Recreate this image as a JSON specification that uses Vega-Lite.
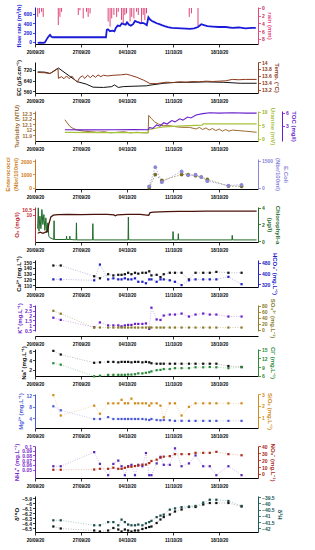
{
"$schema":"https://vega.github.io/schema/vega-lite/v6.json",
"background":"white",
"padding":{"left":4,"top":4,"right":2,"bottom":2},
"datasets":{
"flow":[{"t":"2020-09-20T10:00","q":-20},{"t":"2020-09-20T19:00","q":-15},{"t":"2020-09-21T05:00","q":-20},{"t":"2020-09-21T12:00","q":-10},{"t":"2020-09-21T19:00","q":60},{"t":"2020-09-22T02:00","q":120},{"t":"2020-09-22T07:00","q":150},{"t":"2020-09-22T12:00","q":110},{"t":"2020-09-22T17:00","q":100},{"t":"2020-09-25T00:00","q":100},{"t":"2020-09-28T00:00","q":100},{"t":"2020-09-30T19:00","q":100},{"t":"2020-09-30T22:00","q":260},{"t":"2020-10-01T02:00","q":270},{"t":"2020-10-01T10:00","q":230},{"t":"2020-10-01T19:00","q":240},{"t":"2020-10-02T02:00","q":225},{"t":"2020-10-02T07:00","q":300},{"t":"2020-10-02T14:00","q":350},{"t":"2020-10-02T22:00","q":340},{"t":"2020-10-03T05:00","q":400},{"t":"2020-10-03T12:00","q":380},{"t":"2020-10-03T19:00","q":370},{"t":"2020-10-04T00:00","q":420},{"t":"2020-10-04T07:00","q":370},{"t":"2020-10-04T14:00","q":350},{"t":"2020-10-04T22:00","q":380},{"t":"2020-10-05T05:00","q":450},{"t":"2020-10-05T12:00","q":430},{"t":"2020-10-05T19:00","q":420},{"t":"2020-10-06T02:00","q":400},{"t":"2020-10-06T10:00","q":410},{"t":"2020-10-06T17:00","q":390},{"t":"2020-10-07T00:00","q":360},{"t":"2020-10-07T06:00","q":530},{"t":"2020-10-07T12:00","q":480},{"t":"2020-10-07T19:00","q":450},{"t":"2020-10-08T02:00","q":430},{"t":"2020-10-08T12:00","q":400},{"t":"2020-10-08T22:00","q":380},{"t":"2020-10-09T07:00","q":360},{"t":"2020-10-09T17:00","q":340},{"t":"2020-10-10T05:00","q":320},{"t":"2020-10-10T19:00","q":300},{"t":"2020-10-11T12:00","q":295},{"t":"2020-10-12T05:00","q":290},{"t":"2020-10-13T00:00","q":285},{"t":"2020-10-13T14:00","q":280},{"t":"2020-10-14T05:00","q":290},{"t":"2020-10-14T19:00","q":320},{"t":"2020-10-15T07:00","q":380},{"t":"2020-10-15T17:00","q":360},{"t":"2020-10-16T05:00","q":340},{"t":"2020-10-17T00:00","q":330},{"t":"2020-10-18T00:00","q":320},{"t":"2020-10-19T00:00","q":320},{"t":"2020-10-20T00:00","q":300},{"t":"2020-10-21T00:00","q":310},{"t":"2020-10-22T00:00","q":290},{"t":"2020-10-23T00:00","q":300},{"t":"2020-10-23T14:00","q":300}],
"rain":[{"t":"2020-09-20T10:00","mm":2.3},{"t":"2020-09-20T16:00","mm":1.4},{"t":"2020-09-21T00:00","mm":1.0},{"t":"2020-09-21T06:00","mm":2.3},{"t":"2020-09-23T13:00","mm":4.4},{"t":"2020-09-23T19:00","mm":2.3},{"t":"2020-09-24T01:00","mm":1.0},{"t":"2020-09-26T14:00","mm":1.8},{"t":"2020-09-26T20:00","mm":0.6},{"t":"2020-09-27T08:00","mm":2.7},{"t":"2020-09-27T20:00","mm":1.0},{"t":"2020-09-28T02:00","mm":2.3},{"t":"2020-09-28T09:00","mm":1.4},{"t":"2020-10-01T03:00","mm":3.5},{"t":"2020-10-01T10:00","mm":4.8},{"t":"2020-10-01T16:00","mm":2.7},{"t":"2020-10-02T00:00","mm":1.8},{"t":"2020-10-02T10:00","mm":2.3},{"t":"2020-10-02T16:00","mm":1.0},{"t":"2020-10-03T04:00","mm":3.1},{"t":"2020-10-03T10:00","mm":4.4},{"t":"2020-10-03T16:00","mm":1.8},{"t":"2020-10-03T22:00","mm":1.4},{"t":"2020-10-04T11:00","mm":3.5},{"t":"2020-10-04T17:00","mm":2.3},{"t":"2020-10-05T01:00","mm":2.7},{"t":"2020-10-05T11:00","mm":1.0},{"t":"2020-10-05T17:00","mm":1.8},{"t":"2020-10-06T05:00","mm":3.9},{"t":"2020-10-06T11:00","mm":1.8},{"t":"2020-10-06T17:00","mm":3.1},{"t":"2020-10-06T23:00","mm":1.4},{"t":"2020-10-13T11:00","mm":2.3},{"t":"2020-10-13T19:00","mm":1.4},{"t":"2020-10-14T19:00","mm":4.8}],
"ec":[{"t":"2020-09-20T10:00","v":704},{"t":"2020-09-21T12:00","v":702},{"t":"2020-09-22T07:00","v":692},{"t":"2020-09-23T13:00","v":733},{"t":"2020-09-26T10:00","v":632},{"t":"2020-09-27T20:00","v":613},{"t":"2020-09-28T20:00","v":591},{"t":"2020-09-30T10:00","v":589},{"t":"2020-10-01T16:00","v":595},{"t":"2020-10-02T02:00","v":608},{"t":"2020-10-02T16:00","v":589},{"t":"2020-10-03T10:00","v":595},{"t":"2020-10-04T22:00","v":598},{"t":"2020-10-06T23:00","v":601},{"t":"2020-10-07T12:00","v":606},{"t":"2020-10-09T14:00","v":620},{"t":"2020-10-11T14:00","v":627},{"t":"2020-10-13T14:00","v":627},{"t":"2020-10-16T02:00","v":630},{"t":"2020-10-18T17:00","v":627},{"t":"2020-10-21T05:00","v":620},{"t":"2020-10-23T17:00","v":620}],
"temp":[{"t":"2020-09-20T10:00","v":13.7},{"t":"2020-09-21T12:00","v":13.69},{"t":"2020-09-22T07:00","v":13.67},{"t":"2020-09-23T00:00","v":13.75},{"t":"2020-09-23T12:00","v":13.81},{"t":"2020-09-23T13:30","v":13.53},{"t":"2020-09-24T00:00","v":13.58},{"t":"2020-09-24T10:00","v":13.52},{"t":"2020-09-24T19:00","v":13.6},{"t":"2020-09-25T05:00","v":13.52},{"t":"2020-09-25T14:00","v":13.6},{"t":"2020-09-26T00:00","v":13.5},{"t":"2020-09-26T10:00","v":13.42},{"t":"2020-09-26T19:00","v":13.55},{"t":"2020-09-27T05:00","v":13.6},{"t":"2020-09-27T14:00","v":13.53},{"t":"2020-09-28T00:00","v":13.62},{"t":"2020-09-28T10:00","v":13.55},{"t":"2020-09-28T19:00","v":13.62},{"t":"2020-09-29T05:00","v":13.56},{"t":"2020-09-29T14:00","v":13.63},{"t":"2020-09-30T00:00","v":13.58},{"t":"2020-09-30T10:00","v":13.62},{"t":"2020-10-01T00:00","v":13.6},{"t":"2020-10-02T00:00","v":13.62},{"t":"2020-10-03T00:00","v":13.63},{"t":"2020-10-03T22:00","v":13.65},{"t":"2020-10-04T12:00","v":13.62},{"t":"2020-10-05T12:00","v":13.56},{"t":"2020-10-06T12:00","v":13.48},{"t":"2020-10-07T12:00","v":13.38},{"t":"2020-10-08T12:00","v":13.38},{"t":"2020-10-10T00:00","v":13.42},{"t":"2020-10-11T00:00","v":13.41},{"t":"2020-10-12T00:00","v":13.43},{"t":"2020-10-13T00:00","v":13.42},{"t":"2020-10-14T00:00","v":13.44},{"t":"2020-10-15T00:00","v":13.43},{"t":"2020-10-16T00:00","v":13.45},{"t":"2020-10-17T00:00","v":13.44},{"t":"2020-10-18T00:00","v":13.45},{"t":"2020-10-19T00:00","v":13.46},{"t":"2020-10-20T00:00","v":13.5},{"t":"2020-10-21T00:00","v":13.49},{"t":"2020-10-22T00:00","v":13.5},{"t":"2020-10-23T17:00","v":13.5}],
"turb":[{"t":"2020-09-24T13:00","v":12.18},{"t":"2020-09-24T22:00","v":12.12},{"t":"2020-09-25T07:00","v":12.06},{"t":"2020-09-25T19:00","v":12.02},{"t":"2020-09-26T12:00","v":11.99},{"t":"2020-09-27T12:00","v":11.97},{"t":"2020-09-28T12:00","v":11.96},{"t":"2020-09-29T12:00","v":11.95},{"t":"2020-09-30T12:00","v":11.96},{"t":"2020-10-01T12:00","v":11.94},{"t":"2020-10-02T12:00","v":11.95},{"t":"2020-10-03T12:00","v":11.96},{"t":"2020-10-04T12:00","v":11.94},{"t":"2020-10-05T12:00","v":11.95},{"t":"2020-10-06T12:00","v":11.94},{"t":"2020-10-07T05:00","v":11.94},{"t":"2020-10-07T07:00","v":12.26},{"t":"2020-10-07T17:00","v":12.2},{"t":"2020-10-08T05:00","v":12.14},{"t":"2020-10-08T19:00","v":12.1},{"t":"2020-10-09T12:00","v":12.07},{"t":"2020-10-10T12:00","v":12.07},{"t":"2020-10-11T12:00","v":12.05},{"t":"2020-10-12T12:00","v":12.04},{"t":"2020-10-13T12:00","v":12.04},{"t":"2020-10-14T12:00","v":12.01},{"t":"2020-10-15T00:00","v":12.04},{"t":"2020-10-15T12:00","v":12.0},{"t":"2020-10-16T00:00","v":12.03},{"t":"2020-10-16T12:00","v":11.99},{"t":"2020-10-17T00:00","v":12.02},{"t":"2020-10-17T12:00","v":11.98},{"t":"2020-10-18T00:00","v":12.01},{"t":"2020-10-18T12:00","v":11.97},{"t":"2020-10-19T00:00","v":12.0},{"t":"2020-10-19T12:00","v":11.97},{"t":"2020-10-20T00:00","v":11.99},{"t":"2020-10-21T00:00","v":11.98},{"t":"2020-10-22T00:00","v":11.97},{"t":"2020-10-23T17:00","v":11.95}],
"ura":[{"t":"2020-09-24T13:00","v":2.3},{"t":"2020-09-30T00:00","v":2.2},{"t":"2020-10-07T05:00","v":2.2},{"t":"2020-10-07T07:00","v":3.3},{"t":"2020-10-08T12:00","v":3.9},{"t":"2020-10-09T14:00","v":4.3},{"t":"2020-10-11T00:00","v":4.5},{"t":"2020-10-13T10:00","v":4.8},{"t":"2020-10-15T10:00","v":5.0},{"t":"2020-10-15T14:00","v":5.4},{"t":"2020-10-23T17:00","v":5.4}],
"toc":[{"t":"2020-09-24T13:00","v":2.1},{"t":"2020-09-28T00:00","v":2.05},{"t":"2020-10-02T00:00","v":2.1},{"t":"2020-10-05T00:00","v":2.15},{"t":"2020-10-07T05:00","v":2.1},{"t":"2020-10-07T10:00","v":2.6},{"t":"2020-10-07T22:00","v":2.4},{"t":"2020-10-08T12:00","v":3.2},{"t":"2020-10-09T00:00","v":2.9},{"t":"2020-10-09T14:00","v":3.7},{"t":"2020-10-10T02:00","v":3.4},{"t":"2020-10-10T19:00","v":4.2},{"t":"2020-10-11T07:00","v":3.9},{"t":"2020-10-12T00:00","v":4.6},{"t":"2020-10-12T12:00","v":4.3},{"t":"2020-10-13T05:00","v":5.0},{"t":"2020-10-13T17:00","v":4.8},{"t":"2020-10-14T12:00","v":5.5},{"t":"2020-10-15T12:00","v":5.8},{"t":"2020-10-16T14:00","v":6.0},{"t":"2020-10-18T00:00","v":5.9},{"t":"2020-10-20T00:00","v":6.0},{"t":"2020-10-22T00:00","v":5.9},{"t":"2020-10-23T17:00","v":5.9}],
"bact":[{"t":"2020-10-07T09:00","entero":0,"ecoli":90},{"t":"2020-10-08T07:00","entero":980,"ecoli":1145},{"t":"2020-10-09T07:00","entero":540,"ecoli":316},{"t":"2020-10-12T07:00","entero":980,"ecoli":920},{"t":"2020-10-13T07:00","entero":980,"ecoli":694},{"t":"2020-10-14T10:00","entero":900,"ecoli":733},{"t":"2020-10-15T07:00","entero":800,"ecoli":600},{"t":"2020-10-16T05:00","entero":620,"ecoli":372},{"t":"2020-10-19T10:00","entero":120,"ecoli":130},{"t":"2020-10-21T10:00","entero":100,"ecoli":170}],
"o2":[{"t":"2020-09-20T10:00","v":8.3},{"t":"2020-09-20T19:00","v":8.4},{"t":"2020-09-21T05:00","v":8.3},{"t":"2020-09-21T14:00","v":8.4},{"t":"2020-09-21T22:00","v":8.5},{"t":"2020-09-22T02:00","v":9.1},{"t":"2020-09-22T10:00","v":9.8},{"t":"2020-09-22T19:00","v":9.95},{"t":"2020-09-23T12:00","v":10.0},{"t":"2020-09-25T00:00","v":10.02},{"t":"2020-09-27T00:00","v":10.0},{"t":"2020-09-29T00:00","v":10.02},{"t":"2020-10-01T00:00","v":10.02},{"t":"2020-10-02T00:00","v":9.98},{"t":"2020-10-02T05:00","v":9.9},{"t":"2020-10-02T12:00","v":9.98},{"t":"2020-10-04T00:00","v":10.02},{"t":"2020-10-06T00:00","v":10.02},{"t":"2020-10-07T00:00","v":9.96},{"t":"2020-10-07T07:00","v":9.95},{"t":"2020-10-07T12:00","v":10.18},{"t":"2020-10-08T00:00","v":10.24},{"t":"2020-10-10T00:00","v":10.27},{"t":"2020-10-12T00:00","v":10.3},{"t":"2020-10-14T00:00","v":10.3},{"t":"2020-10-16T00:00","v":10.33},{"t":"2020-10-18T00:00","v":10.32},{"t":"2020-10-20T00:00","v":10.33},{"t":"2020-10-22T00:00","v":10.33},{"t":"2020-10-23T17:00","v":10.33}],
"chl":[{"t":"2020-09-20T09:36","v":1.5},{"t":"2020-09-20T12:00","v":4.0},{"t":"2020-09-20T14:24","v":1.2},{"t":"2020-09-20T18:00","v":3.0},{"t":"2020-09-20T21:36","v":1.5},{"t":"2020-09-21T01:12","v":3.8},{"t":"2020-09-21T04:48","v":2.0},{"t":"2020-09-21T08:24","v":3.2},{"t":"2020-09-21T12:00","v":1.3},{"t":"2020-09-21T15:36","v":2.8},{"t":"2020-09-21T19:12","v":1.0},{"t":"2020-09-21T22:48","v":2.2},{"t":"2020-09-22T02:24","v":0.6},{"t":"2020-09-22T07:12","v":0.4},{"t":"2020-09-22T14:24","v":0.3},{"t":"2020-09-22T20:24","v":0.2},{"t":"2020-09-22T21:36","v":2.45},{"t":"2020-09-22T22:48","v":0.2},{"t":"2020-09-24T18:00","v":0.2},{"t":"2020-09-24T19:12","v":0.6},{"t":"2020-09-24T20:24","v":0.2},{"t":"2020-09-25T06:00","v":0.2},{"t":"2020-09-25T07:12","v":0.6},{"t":"2020-09-25T08:24","v":0.2},{"t":"2020-09-26T06:00","v":0.15},{"t":"2020-09-26T07:12","v":2.2},{"t":"2020-09-26T08:24","v":0.15},{"t":"2020-09-28T18:00","v":0.15},{"t":"2020-09-28T19:12","v":2.1},{"t":"2020-09-28T20:24","v":0.15},{"t":"2020-10-04T03:36","v":0.15},{"t":"2020-10-04T04:48","v":2.9},{"t":"2020-10-04T06:00","v":0.15},{"t":"2020-10-10T22:48","v":0.15},{"t":"2020-10-11T00:00","v":1.15},{"t":"2020-10-11T01:12","v":0.15},{"t":"2020-10-11T18:00","v":0.15},{"t":"2020-10-11T19:12","v":0.9},{"t":"2020-10-11T20:24","v":0.15},{"t":"2020-10-19T22:48","v":0.15},{"t":"2020-10-20T00:00","v":0.7},{"t":"2020-10-20T01:12","v":0.15},{"t":"2020-10-23T16:48","v":0.15}],
"chem":[
{"t":"2020-09-22T19:00","Ca":144,"HCO3":356,"K":1.78,"SO4":63.6,"Na":6.1,"Cl":10.3,"Mg":8.2,"SiO2":2.9,"NH4":0.057,"NO3":6.0,"d18O":-6.47,"d2H":-41.36},
{"t":"2020-09-23T22:00","Ca":144,"HCO3":356,"K":1.56,"SO4":54,"Na":5.3,"Cl":9.8,"Mg":6.8,"SiO2":1.15,"NH4":0.057,"NO3":6.0,"d18O":-6.51,"d2H":-41.36},
{"t":"2020-09-29T00:00","Ca":125.5,"HCO3":349,"K":0.82,"SO4":7.8,"Na":3.5,"Cl":5.8,"Mg":3.75,"SiO2":2.0,"NH4":0.087,"NO3":6.4,"d18O":-6.55,"d2H":-41.76},
{"t":"2020-09-29T21:00","Ca":122,"HCO3":467,"K":1.3,"SO4":8.2,"Na":3.6,"Cl":6.0,"Mg":3.75,"SiO2":1.3,"NH4":0.062,"NO3":7.4,"d18O":-6.57,"d2H":-41.76},
{"t":"2020-10-01T03:00","Ca":129,"HCO3":356,"K":1.0,"SO4":7.9,"Na":3.7,"Cl":6.3,"Mg":4.4,"SiO2":2.2,"NH4":0.038,"NO3":7.4,"d18O":-6.55,"d2H":-41.5},
{"t":"2020-10-01T22:00","Ca":127,"HCO3":364,"K":1.0,"SO4":8.0,"Na":3.7,"Cl":6.3,"Mg":3.75,"SiO2":2.2,"NH4":0.062,"NO3":8.9,"d18O":-6.5,"d2H":-41.5},
{"t":"2020-10-02T16:00","Ca":128,"HCO3":356,"K":1.0,"SO4":8.1,"Na":3.6,"Cl":6.3,"Mg":3.75,"SiO2":2.2,"NH4":0.069,"NO3":7.4,"d18O":-6.53,"d2H":-41.76},
{"t":"2020-10-03T04:00","Ca":128,"HCO3":356,"K":0.9,"SO4":7.9,"Na":3.7,"Cl":6.3,"Mg":3.75,"SiO2":2.5,"NH4":0.057,"NO3":7.4,"d18O":-6.57,"d2H":-41.3},
{"t":"2020-10-03T16:00","Ca":129,"HCO3":364,"K":1.0,"SO4":8.0,"Na":3.7,"Cl":6.3,"Mg":3.75,"SiO2":2.2,"NH4":0.038,"NO3":8.9,"d18O":-6.53,"d2H":-41.5},
{"t":"2020-10-04T04:00","Ca":131.5,"HCO3":356,"K":1.05,"SO4":8.0,"Na":3.7,"Cl":6.4,"Mg":3.75,"SiO2":2.2,"NH4":0.057,"NO3":10.4,"d18O":-6.55,"d2H":-41.7},
{"t":"2020-10-04T16:00","Ca":129,"HCO3":356,"K":1.05,"SO4":8.1,"Na":3.6,"Cl":6.4,"Mg":3.75,"SiO2":2.6,"NH4":0.06,"NO3":10.4,"d18O":-6.57,"d2H":-41.76},
{"t":"2020-10-05T05:00","Ca":131.5,"HCO3":364,"K":1.15,"SO4":8.0,"Na":3.7,"Cl":6.5,"Mg":3.75,"SiO2":2.2,"NH4":0.038,"NO3":11.4,"d18O":-6.55,"d2H":-41.76},
{"t":"2020-10-05T17:00","Ca":130,"HCO3":338,"K":1.15,"SO4":7.9,"Na":3.7,"Cl":6.8,"Mg":3.75,"SiO2":2.2,"NH4":0.06,"NO3":12.0,"d18O":-6.55,"d2H":-41.7},
{"t":"2020-10-06T08:00","Ca":131.5,"HCO3":338,"K":1.15,"SO4":8.0,"Na":3.6,"Cl":6.8,"Mg":3.75,"SiO2":2.2,"NH4":0.057,"NO3":13.5,"d18O":-6.52,"d2H":-41.76},
{"t":"2020-10-06T21:00","Ca":131.5,"HCO3":327,"K":1.2,"SO4":8.0,"Na":3.7,"Cl":7.0,"Mg":3.6,"SiO2":2.2,"NH4":0.085,"NO3":13.5,"d18O":-6.5,"d2H":-41.6},
{"t":"2020-10-07T09:00","Ca":134,"HCO3":356,"K":0.65,"SO4":8.0,"Na":3.6,"Cl":7.2,"Mg":3.4,"SiO2":2.0,"NH4":0.038,"NO3":15.7,"d18O":-6.48,"d2H":-41.5},
{"t":"2020-10-07T17:00","Ca":127,"HCO3":356,"K":2.8,"SO4":8.1,"Na":3.4,"Cl":7.5,"Mg":3.75,"SiO2":2.2,"NH4":0.038,"NO3":18.7,"d18O":-6.47,"d2H":-41.4},
{"t":"2020-10-08T12:00","Ca":128,"HCO3":338,"K":1.6,"SO4":8.0,"Na":3.3,"Cl":7.9,"Mg":3.4,"SiO2":2.2,"NH4":0.063,"NO3":20.6,"d18O":-6.4,"d2H":-41.1},
{"t":"2020-10-09T02:00","Ca":124,"HCO3":356,"K":1.55,"SO4":8.0,"Na":3.3,"Cl":8.0,"Mg":3.3,"SiO2":2.0,"NH4":0.077,"NO3":23.5,"d18O":-6.33,"d2H":-40.98},
{"t":"2020-10-09T14:00","Ca":129,"HCO3":356,"K":2.0,"SO4":7.9,"Na":3.3,"Cl":8.3,"Mg":3.4,"SiO2":1.0,"NH4":0.06,"NO3":25.0,"d18O":-6.28,"d2H":-40.9},
{"t":"2020-10-10T12:00","Ca":131.5,"HCO3":349,"K":2.1,"SO4":8.0,"Na":3.3,"Cl":8.3,"Mg":3.3,"SiO2":2.2,"NH4":0.06,"NO3":25.7,"d18O":-6.23,"d2H":-40.5},
{"t":"2020-10-11T07:00","Ca":131.5,"HCO3":338,"K":2.1,"SO4":8.0,"Na":3.3,"Cl":8.6,"Mg":3.1,"SiO2":2.2,"NH4":0.095,"NO3":28.6,"d18O":-6.17,"d2H":-40.4},
{"t":"2020-10-12T07:00","Ca":131.5,"HCO3":313,"K":2.2,"SO4":8.0,"Na":3.3,"Cl":8.6,"Mg":3.1,"SiO2":1.15,"NH4":0.057,"NO3":28.6,"d18O":-6.13,"d2H":-40.3},
{"t":"2020-10-13T10:00","Ca":120,"HCO3":349,"K":1.9,"SO4":8.0,"Na":3.3,"Cl":8.6,"Mg":3.1,"SiO2":1.9,"NH4":0.063,"NO3":28.6,"d18O":-6.08,"d2H":-40.25},
{"t":"2020-10-14T10:00","Ca":131.5,"HCO3":356,"K":2.1,"SO4":8.0,"Na":3.3,"Cl":8.9,"Mg":3.1,"SiO2":2.2,"NH4":0.08,"NO3":30.5,"d18O":-6.08,"d2H":-40.2},
{"t":"2020-10-15T14:00","Ca":131.5,"HCO3":356,"K":2.2,"SO4":8.0,"Na":3.3,"Cl":8.9,"Mg":3.1,"SiO2":2.2,"NH4":0.057,"NO3":30.5,"d18O":-6.03,"d2H":-39.93},
{"t":"2020-10-16T14:00","Ca":131.5,"HCO3":356,"K":2.1,"SO4":8.0,"Na":3.3,"Cl":9.0,"Mg":3.1,"SiO2":2.2,"NH4":0.057,"NO3":30.5,"d18O":-6.0,"d2H":-39.7},
{"t":"2020-10-17T14:00","Ca":133,"HCO3":356,"K":2.1,"SO4":8.0,"Na":3.3,"Cl":8.9,"Mg":3.1,"SiO2":2.2,"NH4":0.038,"NO3":32,"d18O":-6.0,"d2H":-39.7},
{"t":"2020-10-19T10:00","Ca":131.5,"HCO3":375,"K":1.9,"SO4":8.0,"Na":2.8,"Cl":8.6,"Mg":3.1,"SiO2":2.2,"NH4":0.057,"NO3":28.6,"d18O":-6.0,"d2H":-39.8},
{"t":"2020-10-21T10:00","Ca":131.5,"HCO3":320,"K":1.9,"SO4":8.0,"Na":2.6,"Cl":8.9,"Mg":3.1,"SiO2":2.2,"NH4":0.038,"NO3":27,"d18O":-6.07,"d2H":-40.2}
]
},
"vconcat":[
{"width":223,"height":37,"layer":[
 {"data":{"name":"rain"},"mark":{"type":"rule","color":"#e0457b","strokeWidth":1},
  "encoding":{"x":{"field":"t","type":"temporal","title":null,"scale":{"domain":[{"year":2020,"month":9,"date":20},{"year":2020,"month":10,"date":23,"hours":22}]},"axis":{"values":[{"year":2020,"month":9,"date":20},{"year":2020,"month":9,"date":27},{"year":2020,"month":10,"date":4},{"year":2020,"month":10,"date":11},{"year":2020,"month":10,"date":18}],"format":"%d/%m/%y"}},
   "y":{"field":"mm","type":"quantitative","scale":{"domain":[-0.25,9.3],"reverse":true,"nice":false,"zero":false},"axis":{"orient":"right","values":[0,2,4,6,8],"title":"rain (mm)","domainColor":"#e0457b","tickColor":"#e0457b","labelColor":"#c0306a","titleColor":"#e0457b"}},
   "y2":{"datum":0}}},
 {"data":{"name":"flow"},"mark":{"type":"line","color":"#1a1ad8","strokeWidth":1.8},
  "encoding":{"x":{"field":"t","type":"temporal","title":null,"scale":{"domain":[{"year":2020,"month":9,"date":20},{"year":2020,"month":10,"date":23,"hours":22}]},"axis":{"values":[{"year":2020,"month":9,"date":20},{"year":2020,"month":9,"date":27},{"year":2020,"month":10,"date":4},{"year":2020,"month":10,"date":11},{"year":2020,"month":10,"date":18}],"format":"%d/%m/%y"}},
   "y":{"field":"q","type":"quantitative","scale":{"domain":[-45,750],"nice":false,"zero":false},"axis":{"orient":"left","values":[0,200,400,600],"title":"flow rate (m³/h)","domainColor":"#1a1ad8","tickColor":"#1a1ad8","labelColor":"#1a1ad8","titleColor":"#1a1ad8"}}}}
 ],"resolve":{"scale":{"y":"independent"}}},
{"width":223,"height":31,"layer":[
 {"data":{"name":"ec"},"mark":{"type":"line","color":"#111111","strokeWidth":1},
  "encoding":{"x":{"field":"t","type":"temporal","title":null,"scale":{"domain":[{"year":2020,"month":9,"date":20},{"year":2020,"month":10,"date":23,"hours":22}]},"axis":{"values":[{"year":2020,"month":9,"date":20},{"year":2020,"month":9,"date":27},{"year":2020,"month":10,"date":4},{"year":2020,"month":10,"date":11},{"year":2020,"month":10,"date":18}],"format":"%d/%m/%y"}},
   "y":{"field":"v","type":"quantitative","scale":{"domain":[548,777],"nice":false,"zero":false},"axis":{"orient":"left","values":[560,640,720],"title":"EC (µS.cm⁻¹)","domainColor":"#111","tickColor":"#111","labelColor":"#111","titleColor":"#111"}}}},
 {"data":{"name":"temp"},"mark":{"type":"line","color":"#8b3a1e","strokeWidth":1},
  "encoding":{"x":{"field":"t","type":"temporal","title":null,"scale":{"domain":[{"year":2020,"month":9,"date":20},{"year":2020,"month":10,"date":23,"hours":22}]},"axis":{"values":[{"year":2020,"month":9,"date":20},{"year":2020,"month":9,"date":27},{"year":2020,"month":10,"date":4},{"year":2020,"month":10,"date":11},{"year":2020,"month":10,"date":18}],"format":"%d/%m/%y"}},
   "y":{"field":"v","type":"quantitative","scale":{"domain":[13.11,14.0],"nice":false,"zero":false},"axis":{"orient":"right","values":[13.2,13.4,13.6,13.8,14],"title":"Temp. (°C)","domainColor":"#8b3a1e","tickColor":"#8b3a1e","labelColor":"#8b3a1e","titleColor":"#8b3a1e"}}}}
 ],"resolve":{"scale":{"y":"independent"}}},
{"width":223,"height":30,"layer":[
 {"data":{"name":"turb"},"mark":{"type":"line","color":"#9b6a2f","strokeWidth":1},
  "encoding":{"x":{"field":"t","type":"temporal","title":null,"scale":{"domain":[{"year":2020,"month":9,"date":20},{"year":2020,"month":10,"date":23,"hours":22}]},"axis":{"values":[{"year":2020,"month":9,"date":20},{"year":2020,"month":9,"date":27},{"year":2020,"month":10,"date":4},{"year":2020,"month":10,"date":11},{"year":2020,"month":10,"date":18}],"format":"%d/%m/%y"}},
   "y":{"field":"v","type":"quantitative","scale":{"domain":[11.79,12.34],"nice":false,"zero":false},"axis":{"orient":"left","values":[11.9,12,12.1,12.2,12.3],"title":"Turbidity (NTU)","domainColor":"#9b6a2f","tickColor":"#9b6a2f","labelColor":"#9b6a2f","titleColor":"#9b6a2f"}}}},
 {"data":{"name":"ura"},"mark":{"type":"line","color":"#a8c23a","strokeWidth":1.2},
  "encoding":{"x":{"field":"t","type":"temporal","title":null,"scale":{"domain":[{"year":2020,"month":9,"date":20},{"year":2020,"month":10,"date":23,"hours":22}]},"axis":{"values":[{"year":2020,"month":9,"date":20},{"year":2020,"month":9,"date":27},{"year":2020,"month":10,"date":4},{"year":2020,"month":10,"date":11},{"year":2020,"month":10,"date":18}],"format":"%d/%m/%y"}},
   "y":{"field":"v","type":"quantitative","scale":{"domain":[-0.9,10.2],"nice":false,"zero":false},"axis":{"orient":"right","values":[0,5,10],"title":"Uranine (mV)","domainColor":"#a8c23a","tickColor":"#a8c23a","labelColor":"#98b22a","titleColor":"#a8c23a"}}}},
 {"data":{"name":"toc"},"mark":{"type":"line","color":"#6a1fc9","strokeWidth":1.1},
  "encoding":{"x":{"field":"t","type":"temporal","title":null,"scale":{"domain":[{"year":2020,"month":9,"date":20},{"year":2020,"month":10,"date":23,"hours":22}]},"axis":{"values":[{"year":2020,"month":9,"date":20},{"year":2020,"month":9,"date":27},{"year":2020,"month":10,"date":4},{"year":2020,"month":10,"date":11},{"year":2020,"month":10,"date":18}],"format":"%d/%m/%y"}},
   "y":{"field":"v","type":"quantitative","scale":{"domain":[-0.5,6.4],"nice":false,"zero":false},"axis":{"orient":"right","offset":24,"values":[3,6],"title":"TOC (mg/l)","domainColor":"#6a1fc9","tickColor":"#6a1fc9","labelColor":"#6a1fc9","titleColor":"#6a1fc9"}}}}
 ],"resolve":{"scale":{"y":"independent"}}},
{"width":223,"height":30,"data":{"name":"bact"},"layer":[
 {"mark":{"type":"line","color":"#7a6e1e","strokeDash":[1.5,1.5],"strokeWidth":0.8,"strokeOpacity":0.8,"point":{"filled":true,"size":14,"color":"#7a6e1e","opacity":1}},
  "encoding":{"x":{"field":"t","type":"temporal","title":null,"scale":{"domain":[{"year":2020,"month":9,"date":20},{"year":2020,"month":10,"date":23,"hours":22}]},"axis":{"values":[{"year":2020,"month":9,"date":20},{"year":2020,"month":9,"date":27},{"year":2020,"month":10,"date":4},{"year":2020,"month":10,"date":11},{"year":2020,"month":10,"date":18}],"format":"%d/%m/%y"}},
   "y":{"field":"entero","type":"quantitative","scale":{"domain":[-100,2150],"nice":false,"zero":false},"axis":{"orient":"left","values":[0,1000,2000],"title":["Enterococci","(Nbr/100ml)"],"domainColor":"#d07a1a","tickColor":"#d07a1a","labelColor":"#d07a1a","titleColor":"#c8801a"}}}},
 {"mark":{"type":"line","color":"#8a86d8","strokeDash":[1.5,1.5],"strokeWidth":0.8,"strokeOpacity":0.8,"point":{"filled":true,"size":14,"color":"#8a86d8","opacity":1}},
  "encoding":{"x":{"field":"t","type":"temporal","title":null,"scale":{"domain":[{"year":2020,"month":9,"date":20},{"year":2020,"month":10,"date":23,"hours":22}]},"axis":{"values":[{"year":2020,"month":9,"date":20},{"year":2020,"month":9,"date":27},{"year":2020,"month":10,"date":4},{"year":2020,"month":10,"date":11},{"year":2020,"month":10,"date":18}],"format":"%d/%m/%y"}},
   "y":{"field":"ecoli","type":"quantitative","scale":{"domain":[-60,1600],"nice":false,"zero":false},"axis":{"orient":"right","values":[0,1500],"title":["E.Coli","(Nbr/100ml)"],"domainColor":"#8a86d8","tickColor":"#8a86d8","labelColor":"#8a86d8","titleColor":"#8a86d8"}}}}
 ],"resolve":{"scale":{"y":"independent"}}},
{"width":223,"height":35,"layer":[
 {"data":{"name":"chl"},"mark":{"type":"line","color":"#1f6b2a","strokeWidth":1},
  "encoding":{"x":{"field":"t","type":"temporal","title":null,"scale":{"domain":[{"year":2020,"month":9,"date":20},{"year":2020,"month":10,"date":23,"hours":22}]},"axis":{"values":[{"year":2020,"month":9,"date":20},{"year":2020,"month":9,"date":27},{"year":2020,"month":10,"date":4},{"year":2020,"month":10,"date":11},{"year":2020,"month":10,"date":18}],"format":"%d/%m/%y"}},
   "y":{"field":"v","type":"quantitative","scale":{"domain":[-0.1,4.1],"nice":false,"zero":false},"axis":{"orient":"right","values":[0,2,4],"title":["Chlorophyll-a","(µg/l)"],"domainColor":"#1f6b2a","tickColor":"#1f6b2a","labelColor":"#1f6b2a","titleColor":"#1f6b2a"}}}},
 {"data":{"name":"o2"},"mark":{"type":"line","color":"#4a1208","strokeWidth":1.3},
  "encoding":{"x":{"field":"t","type":"temporal","title":null,"scale":{"domain":[{"year":2020,"month":9,"date":20},{"year":2020,"month":10,"date":23,"hours":22}]},"axis":{"values":[{"year":2020,"month":9,"date":20},{"year":2020,"month":9,"date":27},{"year":2020,"month":10,"date":4},{"year":2020,"month":10,"date":11},{"year":2020,"month":10,"date":18}],"format":"%d/%m/%y"}},
   "y":{"field":"v","type":"quantitative","scale":{"domain":[7.5,10.7],"nice":false,"zero":false},"axis":{"orient":"left","values":[10,10.5],"title":"O₂ (mg/l)","domainColor":"#c0282e","tickColor":"#c0282e","labelColor":"#c0282e","titleColor":"#c0282e"}}}}
 ],"resolve":{"scale":{"y":"independent"}}},
{"width":223,"height":27,"data":{"name":"chem"},"layer":[
 {"mark":{"type":"line","color":"#7777aa","strokeDash":[1,1.5],"strokeWidth":0.7,"strokeOpacity":0.7,"point":{"filled":true,"shape":"square","size":5,"color":"#111111","opacity":1}},
  "encoding":{"x":{"field":"t","type":"temporal","title":null,"scale":{"domain":[{"year":2020,"month":9,"date":20},{"year":2020,"month":10,"date":23,"hours":22}]},"axis":{"values":[{"year":2020,"month":9,"date":20},{"year":2020,"month":9,"date":27},{"year":2020,"month":10,"date":4},{"year":2020,"month":10,"date":11},{"year":2020,"month":10,"date":18}],"format":"%d/%m/%y"}},
   "y":{"field":"Ca","type":"quantitative","scale":{"domain":[107,153.5],"nice":false,"zero":false},"axis":{"orient":"left","values":[110,120,130,140,150],"title":"Ca²⁺ (mg.L⁻¹)","domainColor":"#111","tickColor":"#111","labelColor":"#111","titleColor":"#111"}}}},
 {"mark":{"type":"line","color":"#7777cc","strokeDash":[1,1.5],"strokeWidth":0.7,"strokeOpacity":0.7,"point":{"filled":true,"shape":"square","size":5,"color":"#2020c8","opacity":1}},
  "encoding":{"x":{"field":"t","type":"temporal","title":null,"scale":{"domain":[{"year":2020,"month":9,"date":20},{"year":2020,"month":10,"date":23,"hours":22}]},"axis":{"values":[{"year":2020,"month":9,"date":20},{"year":2020,"month":9,"date":27},{"year":2020,"month":10,"date":4},{"year":2020,"month":10,"date":11},{"year":2020,"month":10,"date":18}],"format":"%d/%m/%y"}},
   "y":{"field":"HCO3","type":"quantitative","scale":{"domain":[299,501],"nice":false,"zero":false},"axis":{"orient":"right","values":[320,400,480],"title":"HCO₃⁻ (mg.L⁻¹)","domainColor":"#2020c8","tickColor":"#2020c8","labelColor":"#2020c8","titleColor":"#2020c8"}}}}
 ],"resolve":{"scale":{"y":"independent"}}},
{"width":223,"height":26,"data":{"name":"chem"},"layer":[
 {"mark":{"type":"line","color":"#9966dd","strokeDash":[1,1.5],"strokeWidth":0.7,"strokeOpacity":0.7,"point":{"filled":true,"shape":"square","size":5,"color":"#6a22c8","opacity":1}},
  "encoding":{"x":{"field":"t","type":"temporal","title":null,"scale":{"domain":[{"year":2020,"month":9,"date":20},{"year":2020,"month":10,"date":23,"hours":22}]},"axis":{"offset":5,"values":[{"year":2020,"month":9,"date":20},{"year":2020,"month":9,"date":27},{"year":2020,"month":10,"date":4},{"year":2020,"month":10,"date":11},{"year":2020,"month":10,"date":18}],"format":"%d/%m/%y"}},
   "y":{"field":"K","type":"quantitative","scale":{"domain":[0.43,3.07],"nice":false,"zero":false},"axis":{"orient":"left","values":[0.5,1,1.5,2,2.5,3],"title":"K⁺ (mg.L⁻¹)","domainColor":"#6a22c8","tickColor":"#6a22c8","labelColor":"#6a22c8","titleColor":"#6a22c8"}}}},
 {"mark":{"type":"line","color":"#a09a5a","strokeDash":[1,1.5],"strokeWidth":0.7,"strokeOpacity":0.7,"point":{"filled":true,"shape":"square","size":5,"color":"#8a7a2a","opacity":1}},
  "encoding":{"x":{"field":"t","type":"temporal","title":null,"scale":{"domain":[{"year":2020,"month":9,"date":20},{"year":2020,"month":10,"date":23,"hours":22}]},"axis":{"offset":5,"values":[{"year":2020,"month":9,"date":20},{"year":2020,"month":9,"date":27},{"year":2020,"month":10,"date":4},{"year":2020,"month":10,"date":11},{"year":2020,"month":10,"date":18}],"format":"%d/%m/%y"}},
   "y":{"field":"SO4","type":"quantitative","scale":{"domain":[-3.5,83],"nice":false,"zero":false},"axis":{"orient":"right","values":[0,20,40,60,80],"title":"SO₄²⁻ (mg.L⁻¹)","domainColor":"#8a7a2a","tickColor":"#8a7a2a","labelColor":"#8a7a2a","titleColor":"#8a7a2a"}}}}
 ],"resolve":{"scale":{"y":"independent"}}},
{"width":223,"height":27,"data":{"name":"chem"},"layer":[
 {"mark":{"type":"line","color":"#777777","strokeDash":[1,1.5],"strokeWidth":0.7,"strokeOpacity":0.7,"point":{"filled":true,"shape":"square","size":5,"color":"#111111","opacity":1}},
  "encoding":{"x":{"field":"t","type":"temporal","title":null,"scale":{"domain":[{"year":2020,"month":9,"date":20},{"year":2020,"month":10,"date":23,"hours":22}]},"axis":{"values":[{"year":2020,"month":9,"date":20},{"year":2020,"month":9,"date":27},{"year":2020,"month":10,"date":4},{"year":2020,"month":10,"date":11},{"year":2020,"month":10,"date":18}],"format":"%d/%m/%y"}},
   "y":{"field":"Na","type":"quantitative","scale":{"domain":[0.63,6.5],"nice":false,"zero":false},"axis":{"orient":"left","values":[2,4,6],"title":"Na⁺ (mg.L⁻¹)","domainColor":"#111","tickColor":"#111","labelColor":"#111","titleColor":"#111"}}}},
 {"mark":{"type":"line","color":"#66aa66","strokeDash":[1,1.5],"strokeWidth":0.7,"strokeOpacity":0.7,"point":{"filled":true,"shape":"square","size":5,"color":"#2a8a3a","opacity":1}},
  "encoding":{"x":{"field":"t","type":"temporal","title":null,"scale":{"domain":[{"year":2020,"month":9,"date":20},{"year":2020,"month":10,"date":23,"hours":22}]},"axis":{"values":[{"year":2020,"month":9,"date":20},{"year":2020,"month":9,"date":27},{"year":2020,"month":10,"date":4},{"year":2020,"month":10,"date":11},{"year":2020,"month":10,"date":18}],"format":"%d/%m/%y"}},
   "y":{"field":"Cl","type":"quantitative","scale":{"domain":[5.9,15.2],"nice":false,"zero":false},"axis":{"orient":"right","values":[6,9,12,15],"title":"Cl⁻ (mg.L⁻¹)","domainColor":"#2a8a3a","tickColor":"#2a8a3a","labelColor":"#2a8a3a","titleColor":"#2a8a3a"}}}}
 ],"resolve":{"scale":{"y":"independent"}}},
{"width":223,"height":34,"data":{"name":"chem"},"layer":[
 {"mark":{"type":"line","color":"#8890e0","strokeDash":[1,1.5],"strokeWidth":0.7,"strokeOpacity":0.7,"point":{"filled":true,"shape":"square","size":5,"color":"#4a5ad8","opacity":1}},
  "encoding":{"x":{"field":"t","type":"temporal","title":null,"scale":{"domain":[{"year":2020,"month":9,"date":20},{"year":2020,"month":10,"date":23,"hours":22}]},"axis":{"values":[{"year":2020,"month":9,"date":20},{"year":2020,"month":9,"date":27},{"year":2020,"month":10,"date":4},{"year":2020,"month":10,"date":11},{"year":2020,"month":10,"date":18}],"format":"%d/%m/%y"}},
   "y":{"field":"Mg","type":"quantitative","scale":{"domain":[0.6,12.5],"nice":false,"zero":false},"axis":{"orient":"left","values":[4,8,12],"title":"Mg²⁺ (mg.L⁻¹)","domainColor":"#4a5ad8","tickColor":"#4a5ad8","labelColor":"#4a5ad8","titleColor":"#4a5ad8"}}}},
 {"mark":{"type":"line","color":"#e0b060","strokeDash":[1,1.5],"strokeWidth":0.7,"strokeOpacity":0.7,"point":{"filled":true,"shape":"square","size":5,"color":"#d08a1a","opacity":1}},
  "encoding":{"x":{"field":"t","type":"temporal","title":null,"scale":{"domain":[{"year":2020,"month":9,"date":20},{"year":2020,"month":10,"date":23,"hours":22}]},"axis":{"values":[{"year":2020,"month":9,"date":20},{"year":2020,"month":9,"date":27},{"year":2020,"month":10,"date":4},{"year":2020,"month":10,"date":11},{"year":2020,"month":10,"date":18}],"format":"%d/%m/%y"}},
   "y":{"field":"SiO2","type":"quantitative","scale":{"domain":[0.08,3.0],"nice":false,"zero":false},"axis":{"orient":"right","values":[1,2,3],"title":"SiO₂ (mg.L⁻¹)","domainColor":"#d08a1a","tickColor":"#d08a1a","labelColor":"#d08a1a","titleColor":"#d08a1a"}}}}
 ],"resolve":{"scale":{"y":"independent"}}},
{"width":223,"height":32,"data":{"name":"chem"},"layer":[
 {"mark":{"type":"line","color":"#9977cc","strokeDash":[1,1.5],"strokeWidth":0.7,"strokeOpacity":0.7,"point":{"filled":true,"shape":"square","size":5,"color":"#5a2ab8","opacity":1}},
  "encoding":{"x":{"field":"t","type":"temporal","title":null,"scale":{"domain":[{"year":2020,"month":9,"date":20},{"year":2020,"month":10,"date":23,"hours":22}]},"axis":{"values":[{"year":2020,"month":9,"date":20},{"year":2020,"month":9,"date":27},{"year":2020,"month":10,"date":4},{"year":2020,"month":10,"date":11},{"year":2020,"month":10,"date":18}],"format":"%d/%m/%y"}},
   "y":{"field":"NH4","type":"quantitative","scale":{"domain":[0.032,0.1],"nice":false,"zero":false},"axis":{"orient":"left","values":[0.05,0.06,0.07,0.08,0.09,0.1],"title":"NH₄⁺ (mg.L⁻¹)","domainColor":"#7a2ac8","tickColor":"#7a2ac8","labelColor":"#7a2ac8","titleColor":"#7a2ac8"}}}},
 {"mark":{"type":"line","color":"#d08060","strokeDash":[1,1.5],"strokeWidth":0.7,"strokeOpacity":0.7,"point":{"filled":true,"shape":"square","size":5,"color":"#a82a1a","opacity":1}},
  "encoding":{"x":{"field":"t","type":"temporal","title":null,"scale":{"domain":[{"year":2020,"month":9,"date":20},{"year":2020,"month":10,"date":23,"hours":22}]},"axis":{"values":[{"year":2020,"month":9,"date":20},{"year":2020,"month":9,"date":27},{"year":2020,"month":10,"date":4},{"year":2020,"month":10,"date":11},{"year":2020,"month":10,"date":18}],"format":"%d/%m/%y"}},
   "y":{"field":"NO3","type":"quantitative","scale":{"domain":[-5.9,40.4],"nice":false,"zero":false},"axis":{"orient":"right","values":[0,10,20,30,40],"title":"NO₃⁻ (mg.L⁻¹)","domainColor":"#a82a1a","tickColor":"#a82a1a","labelColor":"#a82a1a","titleColor":"#a82a1a"}}}}
 ],"resolve":{"scale":{"y":"independent"}}},
{"width":223,"height":36,"data":{"name":"chem"},"layer":[
 {"mark":{"type":"line","color":"#777777","strokeDash":[1,1.5],"strokeWidth":0.7,"strokeOpacity":0.7,"point":{"filled":true,"shape":"square","size":5,"color":"#111111","opacity":1}},
  "encoding":{"x":{"field":"t","type":"temporal","title":null,"scale":{"domain":[{"year":2020,"month":9,"date":20},{"year":2020,"month":10,"date":23,"hours":22}]},"axis":{"values":[{"year":2020,"month":9,"date":20},{"year":2020,"month":9,"date":27},{"year":2020,"month":10,"date":4},{"year":2020,"month":10,"date":11},{"year":2020,"month":10,"date":18}],"format":"%d/%m/%y"}},
   "y":{"field":"d18O","type":"quantitative","scale":{"domain":[-6.58,-5.86],"nice":false,"zero":false},"axis":{"orient":"left","values":[-6.5,-6.4,-6.3,-6.2,-6.1,-6,-5.9],"title":"δ¹⁸O","domainColor":"#111","tickColor":"#111","labelColor":"#111","titleColor":"#111"}}}},
 {"mark":{"type":"line","color":"#6a8a8a","strokeDash":[1,1.5],"strokeWidth":0.7,"strokeOpacity":0.7,"point":{"filled":true,"shape":"square","size":5,"color":"#1a4a4a","opacity":1}},
  "encoding":{"x":{"field":"t","type":"temporal","title":null,"scale":{"domain":[{"year":2020,"month":9,"date":20},{"year":2020,"month":10,"date":23,"hours":22}]},"axis":{"values":[{"year":2020,"month":9,"date":20},{"year":2020,"month":9,"date":27},{"year":2020,"month":10,"date":4},{"year":2020,"month":10,"date":11},{"year":2020,"month":10,"date":18}],"format":"%d/%m/%y"}},
   "y":{"field":"d2H","type":"quantitative","scale":{"domain":[-42.3,-39.4],"nice":false,"zero":false},"axis":{"orient":"right","values":[-42,-41.5,-41,-40.5,-40,-39.5],"title":"δ²H","domainColor":"#1a5a5a","tickColor":"#1a5a5a","labelColor":"#1a5a5a","titleColor":"#1a5a5a"}}}}
 ],"resolve":{"scale":{"y":"independent"}}}
],
"spacing":18,
"bounds":"flush",
"config":{
 "view":{"stroke":null},
 "font":"Liberation Sans",
 "axis":{"grid":false,"labelFontSize":5,"labelFontWeight":"bold","titleFontSize":6,"titleFontWeight":"bold","tickSize":2.5,"labelPadding":1,"titlePadding":2,"domainWidth":1,"tickWidth":0.8,"labelFont":"Liberation Sans","titleFont":"Liberation Sans","labelOverlap":false},
 "axisY":{"format":".4~f"},
 "axisX":{"tickSize":3,"labelPadding":2,"domainColor":"#000","tickColor":"#000","labelColor":"#000","labelFontSize":4.5,"labelFlush":false}
}
}
